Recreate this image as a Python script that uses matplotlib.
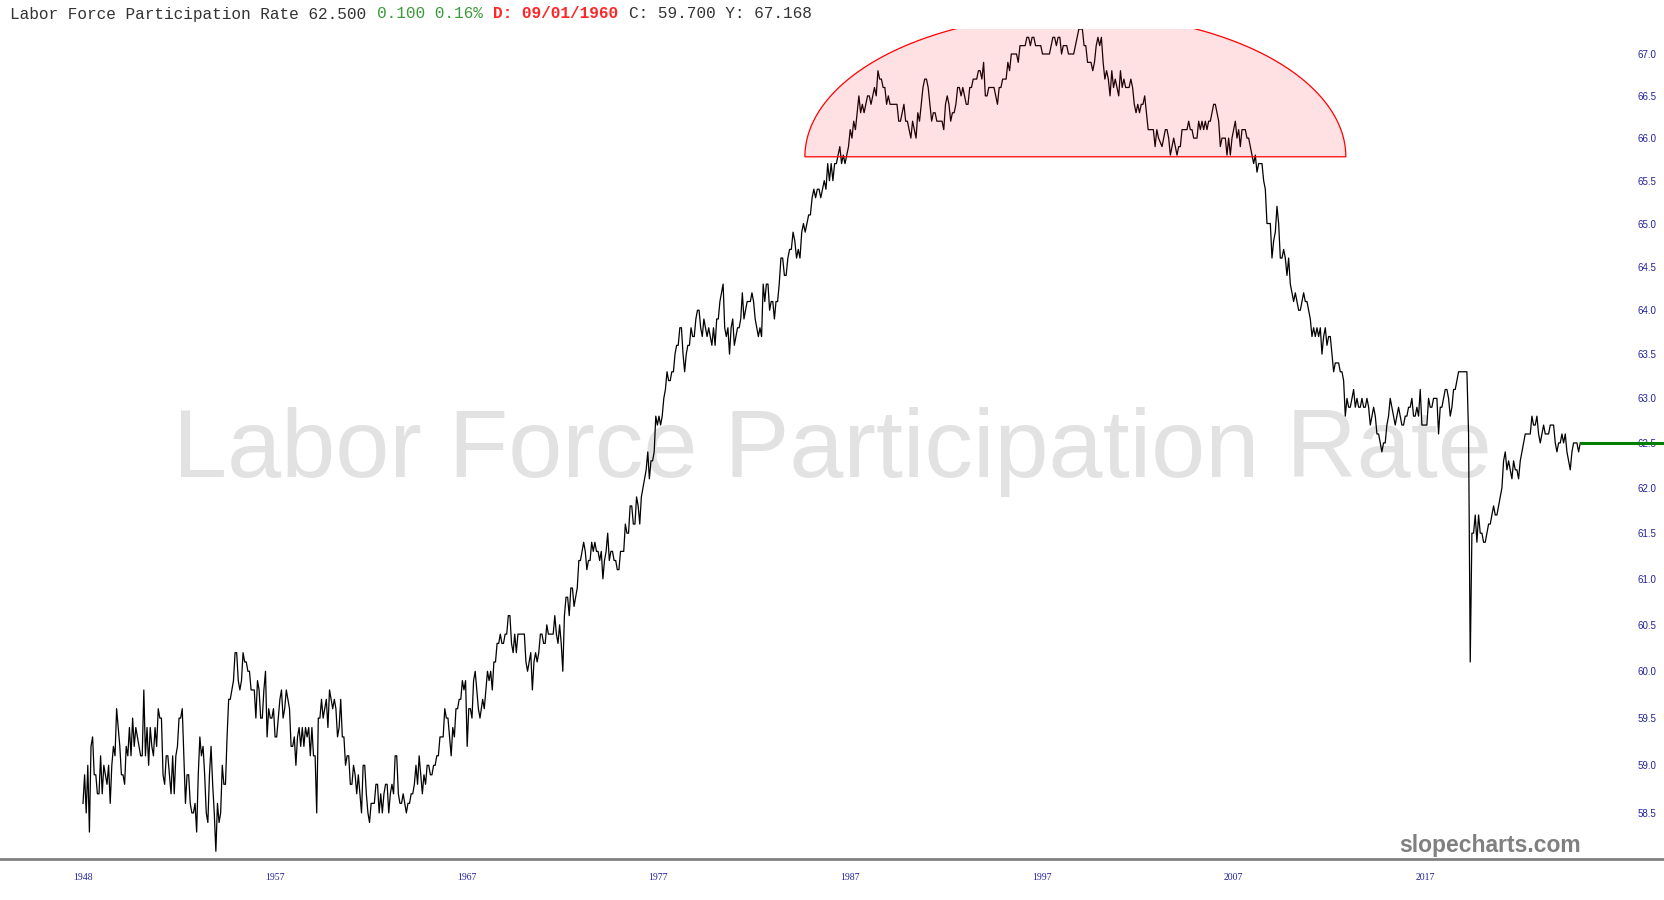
import numpy as np
import matplotlib
matplotlib.use("Agg")
import matplotlib.pyplot as plt
from matplotlib.patches import Polygon
from matplotlib.ticker import NullLocator

# === Monthly readings of the chart, split by era ===
rate_1948_1968 = [
    58.6, 58.9, 58.5, 59.0, 58.3, 59.2, 59.3, 58.9, 58.9, 58.7, 58.7, 59.1, 58.7, 59.0, 58.9, 58.8,
    59.0, 58.6, 59.0, 59.2, 59.1, 59.6, 59.4, 59.2, 58.9, 58.9, 58.8, 59.2, 59.1, 59.4, 59.1, 59.5,
    59.2, 59.4, 59.3, 59.2, 59.1, 59.1, 59.8, 59.1, 59.4, 59.0, 59.4, 59.2, 59.1, 59.4, 59.2, 59.6,
    59.5, 59.5, 58.9, 58.8, 59.1, 59.1, 58.9, 58.7, 59.1, 58.7, 59.1, 59.2, 59.5, 59.5, 59.6, 59.1,
    58.6, 58.9, 58.9, 58.6, 58.5, 58.5, 58.6, 58.3, 58.9, 59.3, 59.1, 59.2, 58.9, 58.5, 58.4, 58.9,
    59.2, 58.8, 58.5, 58.1, 58.6, 58.4, 58.5, 59.0, 58.8, 58.8, 59.3, 59.7, 59.7, 59.8, 59.9, 60.2,
    60.2, 59.9, 59.8, 59.9, 60.2, 60.1, 60.1, 60.0, 60.0, 59.8, 59.8, 59.8, 59.5, 59.9, 59.8, 59.5,
    59.5, 59.8, 60.0, 59.3, 59.6, 59.5, 59.5, 59.6, 59.3, 59.3, 59.5, 59.7, 59.8, 59.5, 59.6, 59.8,
    59.7, 59.6, 59.2, 59.2, 59.3, 59.0, 59.3, 59.4, 59.2, 59.4, 59.2, 59.4, 59.3, 59.4, 59.1, 59.4,
    59.1, 59.1, 58.5, 59.5, 59.5, 59.7, 59.5, 59.6, 59.7, 59.4, 59.8, 59.7, 59.6, 59.7, 59.6, 59.3,
    59.4, 59.7, 59.3, 59.3, 59.0, 59.1, 59.1, 58.8, 58.8, 59.0, 58.9, 58.7, 58.9, 58.7, 58.5, 59.0,
    59.0, 58.7, 58.5, 58.4, 58.6, 58.6, 58.6, 58.8, 58.8, 58.5, 58.7, 58.5, 58.7, 58.8, 58.8, 58.5,
    58.7, 58.8, 58.7, 59.1, 59.1, 58.7, 58.6, 58.6, 58.7, 58.6, 58.5, 58.6, 58.6, 58.7, 58.7, 58.8,
    59.0, 58.8, 59.1, 58.9, 58.7, 58.9, 58.8, 59.0, 59.0, 58.9, 58.9, 59.0, 59.0, 59.1, 59.1, 59.3,
    59.3, 59.3, 59.6, 59.5, 59.5, 59.3, 59.1, 59.4, 59.3, 59.6, 59.6, 59.7, 59.7, 59.9, 59.8, 59.9,
    59.2, 59.6, 59.6, 59.5, 59.9, 60.0, 59.8, 59.6, 59.5,
]
rate_1969_1984 = [
    59.7, 59.6, 59.8,
    60.0, 59.9, 60.0, 59.8, 60.1, 60.1, 60.3, 60.3, 60.4, 60.3, 60.3, 60.4, 60.4, 60.6, 60.6, 60.3,
    60.2, 60.4, 60.2, 60.4, 60.4, 60.4, 60.4, 60.4, 60.1, 60.0, 60.1, 60.2, 59.8, 60.1, 60.2, 60.1,
    60.2, 60.4, 60.4, 60.3, 60.3, 60.5, 60.4, 60.4, 60.4, 60.4, 60.6, 60.4, 60.3, 60.5, 60.3, 60.0,
    60.6, 60.8, 60.8, 60.6, 60.9, 60.9, 60.7, 60.8, 60.9, 61.2, 61.2, 61.3, 61.4, 61.3, 61.1, 61.2,
    61.2, 61.4, 61.3, 61.4, 61.3, 61.3, 61.2, 61.3, 61.0, 61.2, 61.3, 61.5, 61.2, 61.3, 61.3, 61.2,
    61.2, 61.1, 61.1, 61.3, 61.3, 61.3, 61.6, 61.5, 61.5, 61.8, 61.8, 61.6, 61.6, 61.9, 61.8, 61.6,
    61.9, 62.0, 62.1, 62.2, 62.4, 62.1, 62.3, 62.3, 62.4, 62.8, 62.7, 62.8, 62.7, 62.8, 63.0, 63.1,
    63.3, 63.2, 63.2, 63.3, 63.3, 63.5, 63.6, 63.6, 63.8, 63.8, 63.5, 63.3, 63.5, 63.6, 63.6, 63.8,
    63.7, 63.7, 63.9, 64.0, 64.0, 63.8, 63.7, 63.9, 63.8, 63.7, 63.8, 63.7, 63.6, 63.8, 63.6, 63.9,
    63.9, 64.1, 64.2, 64.3, 63.8, 63.7, 63.8, 63.5, 63.8, 63.9, 63.6, 63.7, 63.8, 63.8, 63.9, 64.2,
    63.9, 64.0, 64.1, 64.1, 64.1, 64.2, 64.1, 63.9, 63.8, 63.7, 63.8, 63.7, 64.3, 64.1, 64.3, 64.3,
    64.0, 64.1, 64.1, 63.9, 64.1, 64.1, 64.3,
]
rate_1984_2004 = [
    64.6, 64.6, 64.4, 64.4, 64.6, 64.7, 64.7, 64.9, 64.8, 64.6, 64.7, 64.6, 64.9, 65.0, 64.9, 65.0,
    65.1, 65.1, 65.3, 65.4, 65.3, 65.4, 65.4, 65.3, 65.4, 65.5, 65.4, 65.7, 65.5, 65.7, 65.5, 65.7,
    65.7, 65.8, 65.9, 65.7, 65.8, 65.7, 65.8, 65.9, 66.1, 66.0, 66.2, 66.1, 66.3, 66.5, 66.3, 66.4,
    66.3, 66.4, 66.5, 66.5, 66.4, 66.5, 66.6, 66.5, 66.8, 66.7, 66.7, 66.6, 66.6, 66.4, 66.5, 66.4,
    66.4, 66.4, 66.4, 66.4, 66.2, 66.2, 66.3, 66.4, 66.2, 66.2, 66.1, 66.0, 66.2, 66.1, 66.0, 66.3,
    66.2, 66.4, 66.6, 66.7, 66.7, 66.6, 66.4, 66.2, 66.3, 66.3, 66.2, 66.2, 66.2, 66.2, 66.1, 66.4,
    66.5, 66.4, 66.2, 66.3, 66.3, 66.4, 66.6, 66.6, 66.5, 66.6, 66.5, 66.4, 66.4, 66.6, 66.6, 66.7,
    66.7, 66.7, 66.8, 66.8, 66.7, 66.9, 66.5, 66.5, 66.6, 66.6, 66.6, 66.6, 66.5, 66.4, 66.6, 66.6,
    66.7, 66.7, 66.7, 66.9, 66.8, 67.0, 67.0, 67.0, 67.0, 66.9, 67.1, 67.1, 67.1, 67.1, 67.2, 67.2,
    67.1, 67.2, 67.2, 67.1, 67.1, 67.1, 67.1, 67.0, 67.0, 67.0, 67.0, 67.0, 67.1, 67.2, 67.2, 67.1,
    67.2, 67.2, 67.0, 67.1, 67.1, 67.1, 67.0, 67.0, 67.0, 67.0, 67.1, 67.2, 67.3, 67.3, 67.3, 67.1,
    67.1, 66.9, 66.9, 66.9, 66.8, 66.9, 67.1, 67.2, 67.1, 67.2, 66.9, 66.7, 66.8, 66.7, 66.5, 66.8,
    66.6, 66.7, 66.6, 66.5, 66.8, 66.6, 66.7, 66.6, 66.6, 66.6, 66.7, 66.6, 66.4, 66.3, 66.4, 66.3,
    66.4, 66.4, 66.5, 66.3, 66.1, 66.1, 66.1, 66.1, 65.9, 66.1, 66.0,
]
rate_2004_2015 = [
    65.9, 66.0, 66.1, 66.1, 66.0, 65.8, 65.9, 66.0, 65.9, 65.8, 65.9, 65.9, 66.1, 66.1, 66.1, 66.1,
    66.2, 66.1, 66.1, 66.0, 66.0, 66.0, 66.2, 66.1, 66.2, 66.1, 66.2, 66.1, 66.2, 66.2, 66.3, 66.4,
    66.4, 66.3, 66.2, 65.9, 66.0, 66.0, 66.0, 65.8, 66.0, 65.8, 66.0, 66.1, 66.2, 66.0, 66.1, 65.9,
    66.1, 66.1, 66.1, 66.0, 66.0, 65.9, 65.8, 65.7, 65.8, 65.6, 65.7, 65.7, 65.7, 65.5, 65.4, 65.0,
    65.0, 65.0, 64.6, 64.8, 64.9, 65.2, 65.0, 64.6, 64.6, 64.7, 64.6, 64.4, 64.6, 64.3, 64.2, 64.1,
    64.2, 64.1, 64.0, 64.0, 64.1, 64.2, 64.1, 64.1, 64.0, 63.9, 63.7, 63.8, 63.7, 63.8, 63.7, 63.8,
    63.5, 63.7, 63.8, 63.6, 63.7, 63.7, 63.5, 63.3, 63.4, 63.4, 63.4, 63.3, 63.3, 63.2, 62.8, 63.0,
    62.9, 62.9, 63.0, 63.1, 62.9, 63.0, 62.9, 62.9, 63.0, 62.9, 62.9, 63.0, 62.9, 62.7, 62.8, 62.9,
    62.8, 62.6, 62.6,
]
rate_2015_2026 = [
    62.4, 62.5, 62.5, 62.7, 62.8, 63.0, 62.9, 62.8, 62.7, 62.8, 62.9, 62.8, 62.7, 62.7, 62.8, 62.8,
    62.9, 62.9, 63.0, 62.8, 62.8, 62.9, 62.8, 63.1, 62.7, 62.7, 62.7, 62.7, 63.0, 62.9, 62.9, 63.0,
    63.0, 63.0, 62.6, 62.9, 62.9, 63.0, 63.1, 63.1, 63.0, 62.8, 62.9, 63.1, 63.1, 63.2, 63.3, 63.3,
    63.3, 63.3, 63.3, 63.3, 62.6, 60.1, 61.5, 61.5, 61.7, 61.4, 61.7, 61.5, 61.5, 61.4, 61.4, 61.5,
    61.6, 61.6, 61.7, 61.8, 61.7, 61.7, 61.8, 61.9, 62.0, 62.3, 62.4, 62.2, 62.3, 62.2, 62.1, 62.3,
    62.2, 62.2, 62.1, 62.3, 62.4, 62.5, 62.6, 62.6, 62.6, 62.6, 62.8, 62.7, 62.7, 62.8, 62.6, 62.5,
    62.6, 62.7, 62.6, 62.6, 62.6, 62.7, 62.7, 62.7, 62.5, 62.4, 62.5, 62.5, 62.6, 62.5, 62.6, 62.4,
    62.3, 62.2, 62.4, 62.5, 62.5, 62.5, 62.4, 62.5,
]
segments = [rate_1948_1968, rate_1969_1984, rate_1984_2004, rate_2004_2015, rate_2015_2026]
segment_spans = [(1948.0, 1968.71), (1968.85, 1984.32), (1984.41, 2004.11),
                 (2004.29, 2015.59), (2015.76, 2026.11)]

x_tick_pos = [1948.0, 1958.0, 1968.0, 1978.0, 1988.0, 1998.0, 2008.0, 2018.0]
x_tick_labels = ["1948", "1957", "1967", "1977", "1987", "1997", "2007", "2017"]
y_ticks = [58.5, 59.0, 59.5, 60.0, 60.5, 61.0, 61.5, 62.0, 62.5, 63.0, 63.5,
           64.0, 64.5, 65.0, 65.5, 66.0, 66.5, 67.0]

# rounded-top zone drawn on the chart
zone_left, zone_right = 1985.66, 2013.88
zone_base, zone_top = 65.78, 67.48

header_parts = [
    ("Labor Force Participation Rate 62.500 ", "#333333", "normal"),
    ("0.100 0.16% ", "#3a9a3a", "normal"),
    ("D: 09/01/1960 ", "#ff2626", "bold"),
    ("C: 59.700 Y: 67.168", "#333333", "normal"),
]

dates = np.concatenate([np.linspace(a, b, len(v)) for (a, b), v in zip(segment_spans, segments)])
rate = np.concatenate([np.array(v) for v in segments])

x_min, x_max = 1943.67, 2030.53

fig = plt.figure(figsize=(16.65, 9), dpi=100)
ax = fig.add_axes([0, 41 / 900, 1, 830 / 900])

ax.plot(dates, rate, color="black", linewidth=0.9, zorder=3)
ax.hlines(rate[-1], dates[-1], x_max, color="#008000", linewidth=2.2, zorder=6)

# === half-ellipse highlight (elliptic in screen space on the log axis) ===
theta = np.linspace(0, np.pi, 300)
xc = (zone_left + zone_right) / 2
half_w = (zone_right - zone_left) / 2
ex = xc + half_w * np.cos(theta)
ey = zone_base * (zone_top / zone_base) ** np.sin(theta)
ax.add_patch(Polygon(np.column_stack([ex, ey]), closed=True,
                     facecolor=(1.0, 0.0, 0.1, 0.12), edgecolor="#ff0000",
                     linewidth=0.9, zorder=4))

# === watermark texts ===
ax.text(0.5, (859 - 477) / 830, "Labor Force Participation Rate", transform=ax.transAxes,
        fontsize=70, color="#e2e2e2", ha="center", va="baseline",
        family="Liberation Sans", zorder=1)
ax.text(1490.5 / 1665, (859 - 852) / 830, "slopecharts.com", transform=ax.transAxes,
        fontsize=16.5, color="#808080", fontweight="bold", ha="center", va="baseline",
        family="Liberation Sans", zorder=1)

# === axes ===
ax.set_yscale("log")
ax.set_xlim(x_min, x_max)
ax.set_ylim(58.02, 67.3)
ax.yaxis.set_minor_locator(NullLocator())
ax.xaxis.set_minor_locator(NullLocator())
ax.set_yticks(y_ticks, [f"{v:.1f}" for v in y_ticks])
ax.set_xticks(x_tick_pos, x_tick_labels)
ax.yaxis.tick_right()
ax.tick_params(axis="y", length=0, pad=-20, labelsize=7, labelcolor="#22229a")
ax.tick_params(axis="x", length=0, pad=10, labelsize=7, labelcolor="#22229a")
for lbl in ax.get_xticklabels():
    lbl.set_family("Liberation Serif")
for lbl in ax.get_yticklabels():
    lbl.set_family("Liberation Sans")

for side in ["top", "left", "right"]:
    ax.spines[side].set_visible(False)
ax.spines["bottom"].set_color("#808080")
ax.spines["bottom"].set_linewidth(2)

# === header line, monospace pieces placed by character count ===
fs = 11.6
char_w = fs * 100 / 72 * 0.6
col = 0
for text, color, weight in header_parts:
    fig.text((10 + col * char_w) / 1665, 1 - 14 / 900, text, fontsize=fs, color=color,
             fontweight=weight, family="Liberation Mono", ha="left", va="center")
    col += len(text)

fig.savefig("out.png", dpi=100)
